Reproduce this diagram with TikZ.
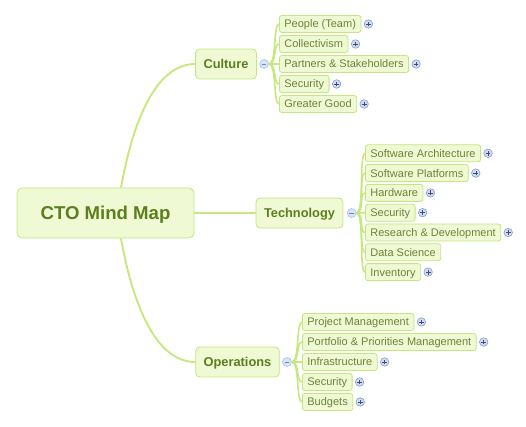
\documentclass[tikz,border=0pt]{standalone}
\usepackage{fontspec}
\setmainfont{Liberation Sans}
\usetikzlibrary{positioning}
\definecolor{limb}{RGB}{198,232,126}
\definecolor{boxfill}{RGB}{239,249,212}
\definecolor{boxline}{RGB}{196,230,128}
\definecolor{olive}{RGB}{92,126,30}
\definecolor{leaftext}{RGB}{108,132,56}
\definecolor{foldfill}{RGB}{214,228,250}
\definecolor{foldline}{RGB}{166,194,238}
\definecolor{expfill}{RGB}{206,220,242}
\definecolor{expline}{RGB}{140,158,192}
\definecolor{expsign}{RGB}{62,78,120}
\tikzset{
	mapbox/.style={draw=boxline,fill=boxfill,rounded corners=5pt,line width=0.8pt,minimum width=177pt,minimum height=50pt,text height=13.3pt,text depth=0pt,font=\fontsize{18.6}{20}\selectfont\bfseries,text=olive},
	topicbox/.style={draw=boxline,fill=boxfill,rounded corners=4pt,line width=0.8pt,inner xsep=8pt,inner ysep=0pt,minimum height=30pt,text height=9.2pt,text depth=0pt,font=\fontsize{12.8}{14}\selectfont\bfseries,text=olive},
	leafbox/.style={draw=boxline,fill=boxfill,rounded corners=2.5pt,line width=0.8pt,inner xsep=5pt,inner ysep=0pt,minimum height=17pt,text height=7.9pt,text depth=0pt,anchor=west,font=\fontsize{11}{12}\selectfont,text=leaftext},
	fold/.style={circle,draw=foldline,fill=foldfill,line width=0.6pt,minimum size=9pt,inner sep=0pt,
		path picture={\draw[foldline!70!black,line width=0.6pt] (path picture bounding box.center) +(-2.2pt,0) -- +(2.2pt,0);}},
	expand/.style={circle,draw=expline,fill=expfill,line width=0.6pt,minimum size=8.5pt,inner sep=0pt,
		path picture={\draw[expsign,line width=0.55pt] (path picture bounding box.center) +(-2.4pt,0) -- +(2.4pt,0)
			(path picture bounding box.center) +(0,-2.4pt) -- +(0,2.4pt);}},
	limbline/.style={limb,line width=1.9pt},
	twig/.style={limb,line width=1.6pt}
}
\begin{document}
\begin{tikzpicture}[x=1pt,y=-1pt]
	\useasboundingbox (0,0) rectangle (526,427);
	
	%main branches
	\node[mapbox] (map) at (105.5,213) {CTO Mind Map};
	\node[topicbox] (cul) at (226,64) {Culture};
	\node[topicbox] (tech) at (299.5,213) {Technology};
	\node[topicbox] (ops) at (237.5,362) {Operations};
	\node[fold,right=2.5pt of cul] (culfold) {};
	\node[fold,right=3.5pt of tech] (techfold) {};
	\node[fold,right=2.5pt of ops] (opsfold) {};
	
	\draw[limbline] ([xshift=15.5pt]map.north) .. controls (135,110) and (160,64) .. (cul.west);
	\draw[limbline] ([xshift=15.5pt]map.south) .. controls (135,316) and (160,362) .. (ops.west);
	\draw[limbline] (map.east) -- (tech.west);
	
	%Culture
	\foreach \t/\p [count=\i] in {People (Team)/1,Collectivism/1,Partners \& Stakeholders/1,Security/1,Greater Good/1}{
		\node[leafbox] (cul\i) at (279,4+20*\i) {\t};
		\draw[twig] (culfold.east) .. controls +(8,0) and +(-6,0) .. (cul\i.west);
		\ifnum\p=1 \node[expand,right=2.5pt of cul\i] (culx\i) {};\fi
	}
	%Technology
	\foreach \t/\p [count=\i] in {Software Architecture/1,Software Platforms/1,Hardware/1,Security/1,Research \& Development/1,Data Science/0,Inventory/1}{
		\node[leafbox] (tech\i) at (365,133.5+19.8*\i) {\t};
		\draw[twig] (techfold.east) .. controls +(8,0) and +(-6,0) .. (tech\i.west);
		\ifnum\p=1 \node[expand,right=2.5pt of tech\i] (techx\i) {};\fi
	}
	%Operations
	\foreach \t/\p [count=\i] in {Project Management/1,Portfolio \& Priorities Management/1,Infrastructure/1,Security/1,Budgets/1}{
		\node[leafbox] (ops\i) at (302,302+20*\i) {\t};
		\draw[twig] (opsfold.east) .. controls +(8,0) and +(-6,0) .. (ops\i.west);
		\ifnum\p=1 \node[expand,right=2.5pt of ops\i] (opsx\i) {};\fi
	}
\end{tikzpicture}
\end{document}
